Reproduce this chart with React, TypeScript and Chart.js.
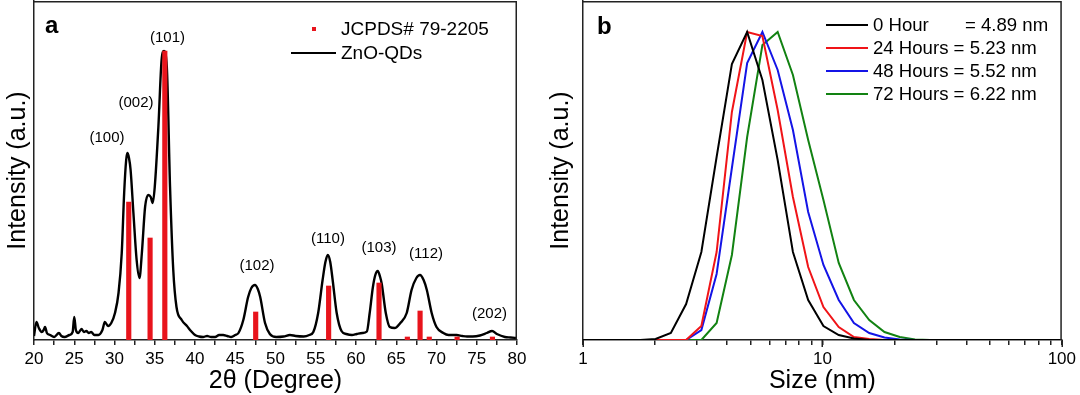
import React, { useEffect, useRef } from 'react';
import { Chart, registerables } from 'chart.js';

Chart.register(...registerables);

const FONT = "'Liberation Sans', Arial, Helvetica, sans-serif";
const AXIS_COLOR = '#222';
const RED = '#e8141c';

// ---------- Panel a : XRD ----------
const xrdTheta = [
  20.0, 20.3, 20.6, 20.96, 21.2, 21.37, 21.6, 22.0, 22.5, 23.1, 23.4, 23.8, 24.4, 24.8, 25.0, 25.2, 25.5,
  25.9, 26.2, 26.5, 26.8, 27.1, 27.5, 28.0, 28.5, 28.8, 29.2, 29.6, 30.06, 30.5, 30.9, 31.2, 31.45, 31.6,
  31.8, 32.0, 32.35, 32.75, 33.1, 33.4, 33.8, 34.2, 34.5, 34.75, 35.0, 35.45, 35.85, 36.15, 36.5, 36.9,
  37.3, 37.7, 38.35, 39.0, 39.5, 40.0, 40.5, 41.0, 41.5, 42.0, 42.5, 43.0, 43.5, 44.0, 44.5, 45.0, 45.4,
  46.0, 46.6, 47.0, 47.45, 47.8, 48.1, 48.7, 49.3, 50.1, 51.0, 51.8, 52.5, 53.5, 54.2, 54.7, 55.3, 55.85,
  56.2, 56.5, 56.8, 57.1, 57.6, 58.2, 58.8, 59.5, 60.1, 60.8, 61.35, 61.7, 62.1, 62.4, 62.7, 63.0, 63.2,
  63.7, 64.2, 64.8, 65.5, 66.3, 66.9, 67.5, 67.95, 68.4, 68.8, 69.4, 70.0, 70.85, 71.5, 72.5, 73.2, 73.8,
  74.5, 75.4, 76.25, 76.9, 77.5, 78.5, 79.2, 80.0,
];
const xrdIntensity = [
  4, 18, 12, 8, 10, 13, 7, 5, 3, 7, 4, 3, 5, 8, 23, 10, 7,
  11, 8, 9, 7, 8, 5, 5, 10, 18, 14, 17, 27, 47, 87, 147, 180, 187,
  182, 170, 127, 80, 62, 87, 133, 145, 143, 137, 153, 213, 280, 289, 273, 153,
  70, 33, 20, 14, 9, 5, 3.5, 3, 4, 3, 3, 5, 5, 4, 3, 5, 7,
  20, 43, 52, 55, 51, 43, 17, 6, 3, 3.5, 5, 4, 3.5, 5, 8, 27, 60,
  78, 85, 78, 60, 27, 9, 6, 5, 6, 7, 8.5, 27, 53, 65, 69, 63, 56,
  27, 13, 12, 17, 27, 50, 62, 65, 60, 50, 27, 13, 7, 5, 5, 4, 3.5,
  3.5, 4.5, 7, 9, 6, 3, 2.5, 2,
];
const jcpdsTheta = [31.77, 34.42, 36.25, 47.54, 56.6, 62.86, 66.38, 67.96, 69.1, 72.56, 76.95];
const jcpdsIntensity = [138, 102, 289, 28, 54, 57, 3, 29, 3, 3, 3];

const peakLabels = ['(100)', '(002)', '(101)', '(102)', '(110)', '(103)', '(112)', '(202)'];
const peakLabelTheta = [29.07, 32.67, 36.58, 47.7, 56.52, 62.86, 68.7, 76.58];
const peakLabelIntensity = [202, 237, 302, 74, 101, 92, 86, 26];

const xrdTickValues = [20, 22.5, 25, 27.5, 30, 32.5, 35, 37.5, 40, 42.5, 45, 47.5, 50, 52.5, 55, 57.5, 60, 62.5, 65, 67.5, 70, 72.5, 75, 77.5, 80];
const xrdTickLabels = ['20', '', '25', '', '30', '', '35', '', '40', '', '45', '', '50', '', '55', '', '60', '', '65', '', '70', '', '75', '', '80'];

// ---------- Panel b : DLS ----------
const dlsSize = [
  0.9649, 1.117, 1.294, 1.499, 1.736, 2.01, 2.328, 2.696, 3.122, 3.615, 4.187, 4.849, 5.615, 6.503, 7.531,
  8.721, 10.1, 11.7, 13.54, 15.69, 18.17, 21.04, 24.36, 28.21, 32.67, 37.84, 43.82, 50.75, 58.77, 68.06,
  78.82, 91.28, 105.7,
];
const dls0h = [
  0, 0, 0, 0, 0, 1, 7, 36, 88, 183, 276, 308, 260, 180, 88,
  40, 14, 5, 1.5, 0, 0, 0, 0, 0, 0, 0, 0, 0, 0, 0,
  0, 0, 0,
];
const dls24h = [
  0, 0, 0, 0, 0, 0, 0, 0, 14, 88, 228, 308, 304, 230, 143,
  73, 33, 13, 3, 1, 0, 0, 0, 0, 0, 0, 0, 0, 0, 0,
  0, 0, 0,
];
const dls48h = [
  0, 0, 0, 0, 0, 0, 0, 0, 10, 66, 172, 277, 308, 270, 210,
  128, 75, 40, 17, 7, 2.5, 0.5, 0, 0, 0, 0, 0, 0, 0, 0,
  0, 0, 0,
];
const dls72h = [
  0, 0, 0, 0, 0, 0, 0, 0, 0, 17, 85, 203, 295, 308, 265,
  200, 140, 77, 40, 20, 8, 3, 0.5, 0, 0, 0, 0, 0, 0, 0,
  0, 0, 0,
];
const dlsLabels = ['0 Hour       = 4.89 nm', '24 Hours = 5.23 nm', '48 Hours = 5.52 nm', '72 Hours = 6.22 nm'];
const dlsColors = ['#000000', '#f01418', '#1414e6', '#128212'];
const dlsTickValues = [1, 2, 3, 4, 5, 6, 7, 8, 9, 10, 20, 30, 40, 50, 60, 70, 80, 90, 100];
const dlsTickLabels = ['1', '', '', '', '', '', '', '', '', '10', '', '', '', '', '', '', '', '', '100'];

// ---------- plugins ----------
const framePlugin = {
  id: 'frame',
  afterDraw(chart: any) {
    const { ctx, chartArea } = chart;
    ctx.save();
    ctx.strokeStyle = AXIS_COLOR;
    ctx.lineWidth = 1.5;
    ctx.beginPath();
    ctx.moveTo(chartArea.left, chartArea.top + 0.75);
    ctx.lineTo(chartArea.right - 0.75, chartArea.top + 0.75);
    ctx.lineTo(chartArea.right - 0.75, chartArea.bottom);
    ctx.stroke();
    ctx.restore();
  },
};

// longer tick marks for the labelled (major) ticks
const majorTickPlugin = {
  id: 'majorTicks',
  afterDraw(chart: any) {
    const { ctx, scales, chartArea } = chart;
    const xs = scales.x;
    ctx.save();
    ctx.strokeStyle = AXIS_COLOR;
    ctx.lineWidth = 1.5;
    xs.ticks.forEach((t: any, i: number) => {
      const lbl = xs.getLabelForValue ? null : null;
      void lbl;
      const label = (xs as any)._labelItems ? null : null;
      void label;
      if (t.label !== '' && t.label !== undefined) {
        const px = Math.round(xs.getPixelForValue(t.value)) + 0.25;
        ctx.beginPath();
        ctx.moveTo(px, chartArea.bottom);
        ctx.lineTo(px, chartArea.bottom + 7);
        ctx.stroke();
      }
      void i;
    });
    ctx.restore();
  },
};

function letterPlugin(letter: string, x: number, y: number) {
  return {
    id: 'letter' + letter,
    afterDraw(chart: any) {
      const { ctx } = chart;
      ctx.save();
      ctx.fillStyle = '#000';
      ctx.font = `bold 24px ${FONT}`;
      ctx.textAlign = 'left';
      ctx.textBaseline = 'alphabetic';
      ctx.fillText(letter, x, y);
      ctx.restore();
    },
  };
}

const peakLabelPlugin = {
  id: 'peakLabels',
  afterDatasetsDraw(chart: any) {
    const { ctx, scales } = chart;
    ctx.save();
    ctx.fillStyle = '#000';
    ctx.font = `15px ${FONT}`;
    ctx.textAlign = 'center';
    ctx.textBaseline = 'middle';
    peakLabels.forEach((t, i) => {
      ctx.fillText(t, scales.x.getPixelForValue(peakLabelTheta[i]), scales.y.getPixelForValue(peakLabelIntensity[i]));
    });
    ctx.restore();
  },
};

const legendAPlugin = {
  id: 'legendA',
  afterDraw(chart: any) {
    const { ctx } = chart;
    const ds = chart.data.datasets;
    ctx.save();
    ctx.font = `19px ${FONT}`;
    ctx.textAlign = 'left';
    ctx.textBaseline = 'middle';
    ctx.fillStyle = ds[0].backgroundColor;
    ctx.fillRect(312, 27, 4, 4);
    ctx.fillStyle = '#000';
    ctx.fillText(ds[0].label, 341, 29.5);
    ctx.strokeStyle = ds[1].borderColor;
    ctx.lineWidth = 2.2;
    ctx.beginPath();
    ctx.moveTo(291, 53);
    ctx.lineTo(336, 53);
    ctx.stroke();
    ctx.fillText(ds[1].label, 341, 53.5);
    ctx.restore();
  },
};

const legendBPlugin = {
  id: 'legendB',
  afterDraw(chart: any) {
    const { ctx } = chart;
    ctx.save();
    ctx.font = `18.6px ${FONT}`;
    ctx.textAlign = 'left';
    ctx.textBaseline = 'middle';
    chart.data.datasets.forEach((d: any, i: number) => {
      const y = 25 + i * 23;
      ctx.strokeStyle = d.borderColor;
      ctx.lineWidth = 2;
      ctx.beginPath();
      ctx.moveTo(286, y);
      ctx.lineTo(328, y);
      ctx.stroke();
      ctx.fillStyle = '#000';
      ctx.fillText(d.label, 333, y + 0.5);
    });
    ctx.restore();
  },
};

function xAxisCommon(titleText: string) {
  return {
    offset: false,
    ticks: {
      autoSkip: false,
      maxRotation: 0,
      minRotation: 0,
      padding: 4,
      color: '#000',
      font: { family: FONT, size: 17 },
    },
    grid: {
      display: true,
      drawOnChartArea: false,
      drawTicks: true,
      tickLength: 5,
      color: AXIS_COLOR,
      lineWidth: 1.5,
      offset: false,
    },
    border: { display: true, color: AXIS_COLOR, width: 1.5 },
    title: {
      display: true,
      text: titleText,
      color: '#000',
      font: { family: FONT, size: 25, lineHeight: 1 },
      padding: { top: 0, bottom: 1 },
    },
    afterFit(s: any) {
      s.height = 55;
    },
  };
}

function yAxisCommon(width: number, titlePad: number) {
  return {
    min: 0,
    max: 339,
    ticks: { display: false },
    grid: { display: false },
    border: { display: true, color: AXIS_COLOR, width: 1.5 },
    title: {
      display: true,
      text: 'Intensity (a.u.)',
      color: '#000',
      font: { family: FONT, size: 25, lineHeight: 1 },
      padding: { top: titlePad, bottom: 0 },
    },
    afterFit(s: any) {
      s.width = width;
    },
  };
}

export default function App() {
  const refA = useRef<HTMLCanvasElement>(null);
  const refB = useRef<HTMLCanvasElement>(null);

  useEffect(() => {
    const xA: any = xAxisCommon('2θ (Degree)');
    const chartA = new Chart(refA.current as HTMLCanvasElement, {
      type: 'line',
      data: {
        datasets: [
          {
            type: 'bar',
            label: 'JCPDS# 79-2205',
            data: jcpdsTheta.map((t, i) => ({ x: t, y: jcpdsIntensity[i] })),
            backgroundColor: RED,
            borderWidth: 0,
            barThickness: 4.5,
            order: 0,
          } as any,
          {
            type: 'line',
            label: 'ZnO-QDs',
            data: xrdTheta.map((t, i) => ({ x: t, y: xrdIntensity[i] })),
            borderColor: '#000000',
            borderWidth: 2.4,
            pointRadius: 0,
            cubicInterpolationMode: 'monotone',
            fill: false,
            order: 1,
          } as any,
        ],
      },
      options: {
        animation: false,
        responsive: false,
        devicePixelRatio: 1,
        layout: { padding: { top: 1, right: 23, left: 0, bottom: 0 } },
        plugins: { legend: { display: false }, tooltip: { enabled: false } },
        scales: {
          x: {
            ...xA,
            type: 'linear',
            min: 20,
            max: 80,
            afterBuildTicks(s: any) {
              s.ticks = xrdTickValues.map((v) => ({ value: v }));
            },
            ticks: {
              ...xA.ticks,
              callback: (v: any) => {
                const i = xrdTickValues.indexOf(Number(v));
                return i >= 0 ? xrdTickLabels[i] : '';
              },
            },
          },
          y: yAxisCommon(34, 6) as any,
        },
      } as any,
      plugins: [framePlugin, peakLabelPlugin, legendAPlugin, letterPlugin('a', 45, 33)],
    });

    const xB: any = xAxisCommon('Size (nm)');
    const seriesB = [dls0h, dls24h, dls48h, dls72h];
    const chartB = new Chart(refB.current as HTMLCanvasElement, {
      type: 'line',
      data: {
        datasets: seriesB.map((s, k) => ({
          label: dlsLabels[k],
          data: dlsSize.map((d, i) => ({ x: d, y: s[i] })),
          borderColor: dlsColors[k],
          borderWidth: 2,
          pointRadius: 0,
          tension: 0,
          fill: false,
        })),
      },
      options: {
        animation: false,
        responsive: false,
        devicePixelRatio: 1,
        layout: { padding: { top: 1, right: 13, left: 0, bottom: 0 } },
        plugins: { legend: { display: false }, tooltip: { enabled: false } },
        scales: {
          x: {
            ...xB,
            type: 'logarithmic',
            min: 1,
            max: 100,
            afterBuildTicks(s: any) {
              s.ticks = dlsTickValues.map((v) => ({ value: v }));
            },
            ticks: {
              ...xB.ticks,
              callback: (v: any) => {
                const i = dlsTickValues.indexOf(Number(v));
                return i >= 0 ? dlsTickLabels[i] : '';
              },
            },
          },
          y: yAxisCommon(43, 9) as any,
        },
      } as any,
      plugins: [framePlugin, majorTickPlugin, legendBPlugin, letterPlugin('b', 57, 34)],
    });

    return () => {
      chartA.destroy();
      chartB.destroy();
    };
  }, []);

  return (
    <div style={{ position: 'absolute', left: 0, top: 0, width: 1080, height: 395, background: '#ffffff' }}>
      <div style={{ position: 'absolute', left: 0, top: 0, width: 540, height: 395 }}>
        <canvas ref={refA} width={540} height={395} style={{ display: 'block' }} />
      </div>
      <div style={{ position: 'absolute', left: 540, top: 0, width: 540, height: 395 }}>
        <canvas ref={refB} width={540} height={395} style={{ display: 'block' }} />
      </div>
    </div>
  );
}
